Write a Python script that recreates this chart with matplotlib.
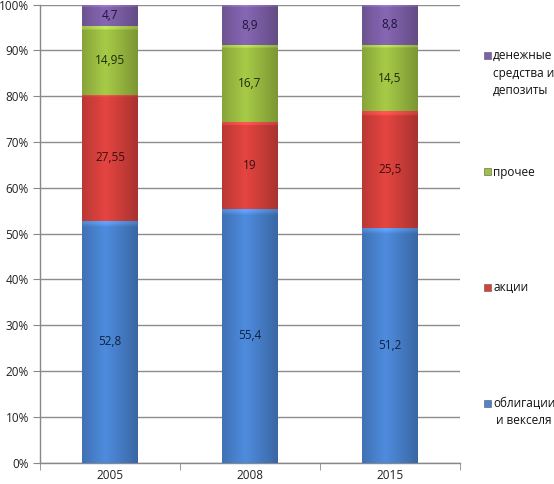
import numpy as np
import matplotlib
matplotlib.use("Agg")
import matplotlib.pyplot as plt
from matplotlib.colors import to_rgb
from matplotlib.patches import Rectangle

plt.rcParams['font.family'] = ['Open Sans', 'DejaVu Sans']

years = ['2005', '2008', '2015']
series_names = ['облигации\n и векселя', 'акции', 'прочее', 'денежные\nсредства и\nдепозиты']
bonds = [52.8, 55.4, 51.2]
stocks = [27.55, 19, 25.5]
other = [14.95, 16.7, 14.5]
cash = [4.7, 8.9, 8.8]
series = [bonds, stocks, other, cash]
colors = ['#4A84D2', '#D9413D', '#9EC043', '#7F61AA']
label_colors = ['#0E2240', '#3A0E0D', '#1E2A08', '#1E1433']
ytick_labels = ['0%', '10%', '20%', '30%', '40%', '50%', '60%', '70%', '80%', '90%', '100%']

W, H = 554, 484
fig = plt.figure(figsize=(W/100, H/100), dpi=100)
ax = fig.add_axes([40/W, 1-462.5/H, 420/W, 457.8/H])

x = np.arange(len(years))
width = 0.395
bottoms = np.zeros(len(years))

def shaded(ax, rect, color):
    base = np.array(to_rgb(color))
    t = np.linspace(0, 1, 80)
    prof = 1.06 - 0.28 * np.abs(t - 0.42) / 0.58
    img = np.clip(base[None, None, :] * prof[None, :, None], 0, 1)
    img = np.repeat(img, 60, axis=0)
    x0, y0 = rect.get_x(), rect.get_y()
    w, h = rect.get_width(), rect.get_height()
    px_h = h * 4.578
    n = max(1, int(round(60 * 3.0 / max(px_h, 1))))
    img[:n] = np.clip(img[:n] * 1.10 + 0.04, 0, 1)
    im = ax.imshow(img, extent=[x0, x0 + w, y0, y0 + h], origin='upper',
                   aspect='auto', zorder=3, interpolation='bilinear')
    im.set_clip_path(rect)

for vals, col, lc in zip(series, colors, label_colors):
    bars = ax.bar(x, vals, width, bottom=bottoms, color=col, edgecolor='none', zorder=2)
    for b in bars:
        shaded(ax, b, col)
    for xi, v, b0 in zip(x, vals, bottoms):
        ax.text(xi, b0 + v / 2, f"{v:g}".replace('.', ','), ha='center', va='center',
                fontsize=8.5, color=lc, zorder=5)
    bottoms = bottoms + np.array(vals)

ax.set_xlim(-0.5, len(years) - 0.5)
ax.set_ylim(0, 100)
ax.set_yticks(np.arange(0, 101, 10))
ax.set_yticklabels(ytick_labels, fontsize=8.5, color='#222222')
ax.set_xticks(x)
ax.set_xticklabels(years, fontsize=8.5, color='#222222')
ax.set_xticks(np.arange(-0.5, len(years), 1), minor=True)
ax.tick_params(axis='x', which='major', length=0, pad=5)
ax.tick_params(axis='x', which='minor', length=5, color='#888888', direction='out')
ax.tick_params(axis='y', length=5, color='#888888', direction='out', pad=3)
ax.yaxis.grid(True, color='#8C8C8C', linewidth=1.0, zorder=0)
ax.set_axisbelow(True)
for s in ['top', 'right']:
    ax.spines[s].set_visible(False)
for s in ['left', 'bottom']:
    ax.spines[s].set_color('#888888')
    ax.spines[s].set_linewidth(1.0)

# legend (manual, right side)
leg_y = [403, 287, 172, 55]
for name, col, yc in zip(series_names, colors, leg_y):
    fig.patches.append(Rectangle((484/W, 1-(yc+3.5)/H), 7/W, 7/H, transform=fig.transFigure,
                                 facecolor=col, edgecolor='#555555', linewidth=0.4))
    fig.text(493/W, 1-(yc-6)/H, name, ha='left', va='top', fontsize=8.5,
             color='#111111', linespacing=1.45)

fig.savefig('out.png', dpi=100)
